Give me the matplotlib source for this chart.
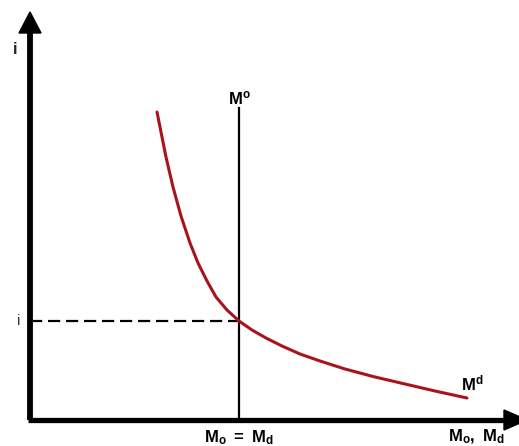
import matplotlib
matplotlib.use("Agg")
import matplotlib.pyplot as plt

# Money demand curve (quantity of money, interest rate) in chart units
md_x = [127, 136, 143, 151, 160, 168, 177, 186, 197, 209, 222, 236, 252, 270, 290, 315, 345, 375, 405, 437]
md_y = [308, 263, 233, 204, 177, 157, 139, 123, 110, 99, 90, 82, 74, 66, 59, 51, 43, 36, 29, 22]

# Money supply (vertical) and equilibrium
ms_x = 209
ms_top = 312
eq_i = 99

plt.rcParams['font.family'] = ['Liberation Sans', 'DejaVu Sans']
plt.rcParams['mathtext.fontset'] = 'custom'
plt.rcParams['mathtext.rm'] = 'Liberation Sans:bold'
plt.rcParams['mathtext.bf'] = 'Liberation Sans:bold'
plt.rcParams['mathtext.it'] = 'Liberation Sans:bold'

fig = plt.figure(figsize=(5.19, 4.46), dpi=100)
ax = fig.add_axes([0, 0, 1, 1])
ax.set_xlim(-30, 489)
ax.set_ylim(-26, 420)
ax.axis('off')

# axes with arrows
ax.plot([0, 0], [0, 390], color='black', lw=4.2, solid_capstyle='butt')
ax.fill([0 - 11, 0 + 11, 0], [387, 387, 408], color='black')
ax.plot([-2, 476], [0, 0], color='black', lw=3.8, solid_capstyle='butt')
ax.fill([474, 474, 497], [10, -10, 0], color='black', clip_on=True)

# money supply
ax.plot([ms_x, ms_x], [0, ms_top], color='black', lw=1.6)
# dashed equilibrium line
ax.plot([0, ms_x], [eq_i, eq_i], color='black', lw=1.6, dashes=(5.5, 2.6))
# money demand
ax.plot(md_x, md_y, color='#a8141b', lw=2.2, solid_joinstyle='round', solid_capstyle='round')

# labels
ax.text(-15, 371, 'i', fontsize=12, fontweight='bold', ha='center', va='center', color='#222222')
ax.text(-11, eq_i, 'i', fontsize=11, ha='center', va='center', color='#333333')
ax.text(ms_x, 322, r'$\mathbf{M^o}$', fontsize=12, ha='center', va='center')
ax.text(442, 37, r'$\mathbf{M^d}$', fontsize=12, ha='center', va='center')
ax.text(ms_x, -18, r'$\mathbf{M_o\ =\ M_d}$', fontsize=12, ha='center', va='center')
ax.text(446, -17, r'$\mathbf{M_o,\ M_d}$', fontsize=12, ha='center', va='center')

fig.savefig('out.png', dpi=100)
